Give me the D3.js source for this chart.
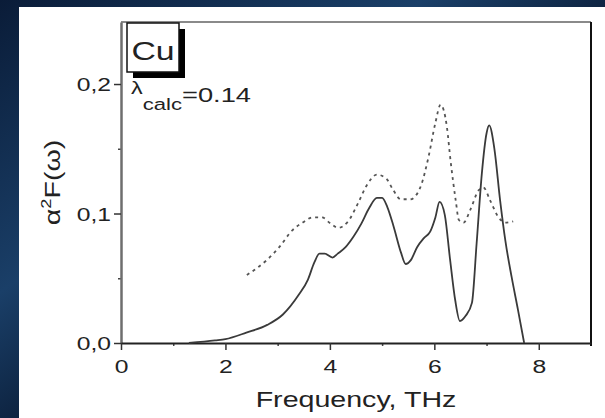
<!DOCTYPE html>
<html>
<head>
<meta charset="utf-8">
<script src="https://cdn.jsdelivr.net/npm/d3@7"></script>
<style>
  html, body { margin: 0; padding: 0; background: #07122a; }
  svg { display: block; }
  text { font-family: "Liberation Sans", Arial, sans-serif; fill: #222; }
</style>
</head>
<body>
<svg></svg>
<script>
// solid curve (calculated a2F)
const freqSolid = [1.3, 1.8, 2.0, 2.4, 2.8, 3.1, 3.4, 3.58, 3.7, 3.8, 3.9, 4.05, 4.15, 4.3, 4.45, 4.6, 4.75, 4.9, 5.0, 5.1, 5.22, 5.36, 5.45, 5.55, 5.67, 5.8, 5.92, 6.02, 6.1, 6.2, 6.3, 6.4, 6.49, 6.6, 6.72, 6.81, 6.91, 7.0, 7.05, 7.15, 7.26, 7.36, 7.48, 7.6, 7.72];
const a2fSolid = [0, 0.002, 0.003, 0.008, 0.014, 0.022, 0.037, 0.049, 0.062, 0.069, 0.069, 0.066, 0.069, 0.074, 0.082, 0.092, 0.104, 0.112, 0.112, 0.105, 0.090, 0.070, 0.061, 0.064, 0.074, 0.081, 0.086, 0.097, 0.109, 0.099, 0.065, 0.033, 0.017, 0.021, 0.031, 0.077, 0.131, 0.162, 0.168, 0.150, 0.110, 0.079, 0.051, 0.026, 0];

// dashed curve
const freqDashed = [2.41, 2.79, 3.03, 3.28, 3.48, 3.67, 3.85, 4.0, 4.16, 4.35, 4.54, 4.71, 4.9, 5.08, 5.2, 5.36, 5.54, 5.73, 5.89, 6.02, 6.12, 6.24, 6.31, 6.41, 6.47, 6.56, 6.69, 6.85, 6.94, 7.07, 7.23, 7.36, 7.51];
const a2fDashed = [0.0525, 0.064, 0.074, 0.087, 0.093, 0.097, 0.097, 0.0927, 0.089, 0.094, 0.108, 0.122, 0.130, 0.127, 0.119, 0.111, 0.111, 0.120, 0.144, 0.170, 0.184, 0.167, 0.141, 0.110, 0.095, 0.093, 0.103, 0.118, 0.120, 0.110, 0.097, 0.093, 0.094];

const xTicks = [0, 2, 4, 6, 8];
const xMinor = [1, 3, 5, 7];
const yTicks = [0, 0.1, 0.2];
const yMinor = [0.05, 0.15];

const width = 605, height = 418;
const stretch = 1.3; // the original lettering is wide

const svg = d3.select("svg").attr("width", width).attr("height", height);

// dark textured backdrop
const defs = svg.append("defs");
const bg = defs.append("linearGradient").attr("id", "bg")
  .attr("x1", 0).attr("y1", 0).attr("x2", 1).attr("y2", 1);
bg.append("stop").attr("offset", "0%").attr("stop-color", "#0a1c38");
bg.append("stop").attr("offset", "35%").attr("stop-color", "#1a3f68");
bg.append("stop").attr("offset", "60%").attr("stop-color", "#07152c");
bg.append("stop").attr("offset", "100%").attr("stop-color", "#0d2442");
svg.append("rect").attr("width", width).attr("height", height).attr("fill", "url(#bg)");

// white panel
svg.append("rect").attr("x", 19).attr("y", 7)
  .attr("width", width - 19).attr("height", height - 7).attr("fill", "#fff");

const x = d3.scaleLinear().domain([0, 9]).range([121, 591]);
const y = d3.scaleLinear().domain([0, 0.2479]).range([343, 22]);

// frame: top and right
svg.append("line")
  .attr("x1", x(0)).attr("x2", x(9)).attr("y1", y(0.2479)).attr("y2", y(0.2479))
  .attr("stroke", "#8a8a8a").attr("stroke-width", 2);
svg.append("line")
  .attr("x1", x(9)).attr("x2", x(9)).attr("y1", y(0.2479)).attr("y2", y(0) + 3)
  .attr("stroke", "#111").attr("stroke-width", 2);

const commaFmt = d => d3.format(".1f")(d).replace(".", ",");

// minor ticks
svg.append("g").attr("transform", `translate(0,${y(0)})`)
  .call(d3.axisBottom(x).tickValues(xMinor).tickSize(3).tickFormat(""))
  .call(g => g.select(".domain").remove())
  .selectAll("line").attr("stroke", "#444").attr("stroke-width", 1.5);
svg.append("g").attr("transform", `translate(${x(0)},0)`)
  .call(d3.axisLeft(y).tickValues(yMinor).tickSize(3).tickFormat(""))
  .call(g => g.select(".domain").remove())
  .selectAll("line").attr("stroke", "#444").attr("stroke-width", 1.5);

// y axis
const yAxis = svg.append("g").attr("transform", `translate(${x(0)},0)`)
  .call(d3.axisLeft(y).tickValues(yTicks).tickSize(7).tickSizeOuter(0).tickFormat(commaFmt));
yAxis.select(".domain").attr("stroke", "#6e6e6e").attr("stroke-width", 2.5);
yAxis.selectAll(".tick line").attr("stroke", "#333").attr("stroke-width", 1.5);
yAxis.selectAll(".tick text")
  .attr("x", -10 / stretch).attr("dy", "0.36em")
  .attr("transform", `scale(${stretch},1)`)
  .style("font-size", "19px").style("fill", "#222");

// x axis
const xAxis = svg.append("g").attr("transform", `translate(0,${y(0)})`)
  .call(d3.axisBottom(x).tickValues(xTicks).tickSize(7).tickSizeOuter(0).tickFormat(d3.format("d")));
xAxis.select(".domain").attr("stroke", "#222").attr("stroke-width", 2);
xAxis.selectAll(".tick line").attr("stroke", "#333").attr("stroke-width", 1.5);
xAxis.selectAll(".tick text")
  .attr("y", 30).attr("dy", 0)
  .attr("transform", `scale(${stretch},1)`)
  .style("font-size", "19px").style("fill", "#222");

// curves
const line = d3.line().x(d => x(d[0])).y(d => y(d[1])).curve(d3.curveMonotoneX);

svg.append("path")
  .datum(d3.zip(freqDashed, a2fDashed))
  .attr("d", line)
  .attr("fill", "none").attr("stroke", "#555").attr("stroke-width", 1.8)
  .attr("stroke-dasharray", "3,4");

svg.append("path")
  .datum(d3.zip(freqSolid, a2fSolid))
  .attr("d", line)
  .attr("fill", "none").attr("stroke", "#3a3a3a").attr("stroke-width", 1.8);

// axis titles
svg.append("text")
  .attr("transform", `translate(${(x(0) + x(9)) / 2},407) scale(${stretch},1)`)
  .attr("text-anchor", "middle")
  .style("font-size", "22px")
  .text("Frequency, THz");

const yTitle = svg.append("text")
  .attr("transform", `translate(60,${(y(0) + y(0.2479)) / 2}) rotate(-90) scale(${stretch},1)`)
  .attr("text-anchor", "middle")
  .style("font-size", "22px");
yTitle.append("tspan").text("α");
yTitle.append("tspan").attr("dy", -9).style("font-size", "14px").text("2");
yTitle.append("tspan").attr("dy", 9).text("F(ω)");

// Cu label box with shadow
svg.append("rect").attr("x", 133).attr("y", 29).attr("width", 52).attr("height", 49).attr("fill", "#000");
svg.append("rect").attr("x", 127).attr("y", 23).attr("width", 52).attr("height", 49)
  .attr("fill", "#fff").attr("stroke", "#111").attr("stroke-width", 1.5);
svg.append("text")
  .attr("transform", `translate(153,60) scale(${stretch},1)`)
  .attr("text-anchor", "middle")
  .style("font-size", "26px")
  .text("Cu");

// lambda label
const lam = svg.append("text")
  .attr("transform", `translate(131,102) scale(${stretch},1)`);
lam.append("tspan").attr("dy", -8).style("font-size", "18px").text("λ");
lam.append("tspan").attr("dy", 16).style("font-size", "17px").text("calc");
lam.append("tspan").attr("dy", -8).style("font-size", "21px").text("=0.14");
</script>
</body>
</html>
